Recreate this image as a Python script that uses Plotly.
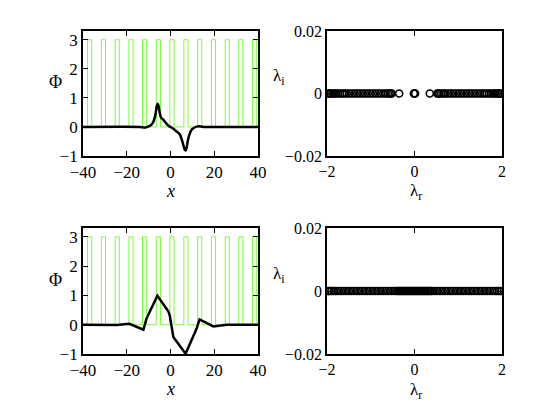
import plotly.graph_objects as go

# ---------------- data ----------------
# optical lattice (square wave): bar start / end positions, height
bar_start = [-37.9, -31.6, -25.3, -19.0, -12.8, -6.5, -0.3, 6.1, 12.4, 18.7, 25.0, 31.2, 37.5]
bar_end = [-36.0, -29.7, -23.4, -17.1, -10.9, -4.6, 1.6, 8.0, 14.3, 20.6, 26.9, 33.1, 39.4]
bar_height = 3.0

# top soliton profile
x_top = [-40, -14, -12, -11, -10, -9, -8, -7, -6.5, -6.2, -5.9, -5.5, -5.0, -4.5, -4.0, -3.3, -2.5, -1.5,
         -0.5, 0.5, 1.5, 2.5, 3.5, 4.3, 5.0, 5.5, 6.0, 6.5, 6.9, 7.3, 8.0, 9.0, 10.0, 11.0, 12.0, 13.0, 15.0, 40]
y_top = [0, 0, -0.02, -0.01, 0.02, 0.06, 0.15, 0.38, 0.6, 0.74, 0.80, 0.74, 0.52, 0.36, 0.29, 0.25, 0.17, 0.08,
         0.02, -0.02, -0.07, -0.14, -0.2, -0.26, -0.4, -0.52, -0.66, -0.78, -0.81, -0.74, -0.44, -0.19, -0.07, -0.02, 0.01, 0.02, 0, 0]

# bottom soliton profile
x_bot = [-40, -24.6, -18.8, -12.4, -11.0, -6.0, -1.0, -0.3, 1.3, 6.9, 11.9, 13.3, 19.6, 25.7, 40]
y_bot = [0, -0.01, 0.03, -0.17, 0.2, 0.99, 0.46, 0.3, -0.42, -0.99, -0.14, 0.18, -0.06, 0.0, 0]

# top eigenvalues (lambda_r, lambda_i)
lr_top = [-1.97, -1.95, -1.92, -1.88, -1.84, -1.80, -1.75, -1.70, -1.65, -1.60, -1.55, -1.49, -1.43,
          -1.37, -1.31, -1.25, -1.19, -1.13, -1.07, -1.01, -0.95, -0.89, -0.83, -0.77, -0.71, -0.66,
          -0.61, -0.57, -0.54, -0.52,
          -0.35, -0.015, 0.0, 0.015, 0.35,
          0.52, 0.54, 0.57, 0.61, 0.66, 0.71, 0.77, 0.83, 0.89, 0.95, 1.01, 1.07, 1.13, 1.19, 1.25,
          1.31, 1.37, 1.43, 1.49, 1.55, 1.60, 1.65, 1.70, 1.75, 1.80, 1.84, 1.88, 1.92, 1.95, 1.97]
li_top = [0.0] * len(lr_top)

# bottom eigenvalues
lr_bot = [-1.97, -1.94, -1.90, -1.85, -1.80, -1.74, -1.68, -1.62, -1.56, -1.50, -1.44, -1.38, -1.32,
          -1.26, -1.20, -1.14, -1.08, -1.02, -0.96, -0.90, -0.84, -0.78, -0.72, -0.66, -0.60, -0.54,
          -0.48, -0.42, -0.38, -0.35, -0.32, -0.29, -0.26, -0.23, -0.20, -0.17, -0.14, -0.11, -0.08,
          -0.05, -0.02, 0.01, 0.04, 0.07, 0.10, 0.13, 0.16, 0.19, 0.22, 0.25, 0.28, 0.31, 0.34, 0.37,
          0.40, 0.46, 0.52, 0.58, 0.64, 0.70, 0.76, 0.82, 0.88, 0.94, 1.00, 1.06, 1.12, 1.18, 1.24,
          1.30, 1.36, 1.42, 1.48, 1.54, 1.60, 1.66, 1.72, 1.78, 1.84, 1.89, 1.93, 1.97]
li_bot = [0.0] * len(lr_bot)

x_ticks_left = [-40, -20, 0, 20, 40]
y_ticks_left = [-1, 0, 1, 2, 3]
x_ticks_right = [-2, 0, 2]
y_ticks_right = [-0.02, 0, 0.02]
y_ticktext_right = ["\u22120.02", "0", "0.02"]

# ---------------- build lattice polyline ----------------
lat_x = [-40]
lat_y = [0]
for s, e in zip(bar_start, bar_end):
    lat_x += [s, s, e, e]
    lat_y += [0, bar_height, bar_height, 0]
lat_x.append(40)
lat_y.append(0)

# page body has an 8px margin: make the figure fit inside the window
OFF = 8
W, H = 554 - 2 * OFF, 416 - 2 * OFF
FONT = "Liberation Serif, Times New Roman, Times, serif"

fig = go.Figure()

GREEN = "#7CFC3C"
# top-left
fig.add_trace(go.Scatter(x=lat_x, y=lat_y, mode="lines", line=dict(color=GREEN, width=1),
                         xaxis="x", yaxis="y", showlegend=False))
fig.add_trace(go.Scatter(x=x_top, y=y_top, mode="lines", line=dict(color="black", width=2.5, shape="spline", smoothing=0.6),
                         xaxis="x", yaxis="y", showlegend=False))
# bottom-left
fig.add_trace(go.Scatter(x=lat_x, y=lat_y, mode="lines", line=dict(color=GREEN, width=1),
                         xaxis="x3", yaxis="y3", showlegend=False))
fig.add_trace(go.Scatter(x=x_bot, y=y_bot, mode="lines", line=dict(color="black", width=2.5),
                         xaxis="x3", yaxis="y3", showlegend=False))
# right scatters
mk = dict(symbol="circle-open", size=7, color="black", line=dict(width=1.6, color="black"))
fig.add_trace(go.Scatter(x=lr_top, y=li_top, mode="markers", marker=mk,
                         xaxis="x2", yaxis="y2", showlegend=False))
fig.add_trace(go.Scatter(x=lr_bot, y=li_bot, mode="markers", marker=mk,
                         xaxis="x4", yaxis="y4", showlegend=False))


def px_x(a, b):
    return [(a - OFF) / W, (b - OFF) / W]


def px_y(top, bot):
    return [(H - (bot - OFF)) / H, (H - (top - OFF)) / H]


axis_common = dict(showline=True, linecolor="black", linewidth=1.8, mirror="ticks",
                   ticks="inside", ticklen=5, tickwidth=1, tickcolor="black",
                   showgrid=False, zeroline=False, automargin=False)

left_font = dict(family=FONT, size=17, color="black")
right_font = dict(family=FONT, size=16, color="black")

fig.update_layout(
    width=W, height=H,
    margin=dict(l=0, r=0, t=0, b=0, autoexpand=False),
    paper_bgcolor="white", plot_bgcolor="white",
    font=dict(family=FONT, color="black"),
    xaxis=dict(domain=px_x(83, 258), range=[-40, 40], tickvals=x_ticks_left, anchor="y",
               tickfont=left_font, **axis_common),
    yaxis=dict(domain=px_y(31, 156), range=[-1, 3.3], tickvals=y_ticks_left, anchor="x",
               tickfont=left_font, **axis_common),
    xaxis2=dict(domain=px_x(327, 502), range=[-2, 2], tickvals=x_ticks_right, anchor="y2",
                tickfont=right_font, **axis_common),
    yaxis2=dict(domain=px_y(31, 156), range=[-0.02, 0.02], tickvals=y_ticks_right,
                ticktext=y_ticktext_right, anchor="x2", tickfont=right_font, **axis_common),
    xaxis3=dict(domain=px_x(83, 258), range=[-40, 40], tickvals=x_ticks_left, anchor="y3",
                tickfont=left_font, **axis_common),
    yaxis3=dict(domain=px_y(228, 354), range=[-1, 3.3], tickvals=y_ticks_left, anchor="x3",
                tickfont=left_font, **axis_common),
    xaxis4=dict(domain=px_x(327, 502), range=[-2, 2], tickvals=x_ticks_right, anchor="y4",
                tickfont=right_font, **axis_common),
    yaxis4=dict(domain=px_y(228, 354), range=[-0.02, 0.02], tickvals=y_ticks_right,
                ticktext=y_ticktext_right, anchor="x4", tickfont=right_font, **axis_common),
)


def label(text, x, y, size=18):
    fig.add_annotation(text=text, x=(x - OFF) / W, y=(H - (y - OFF)) / H, xref="paper", yref="paper",
                       showarrow=False, xanchor="center", yanchor="middle",
                       font=dict(family=FONT, size=size, color="black"))


label("\u03a6", 55, 82)
label("<i>x</i>", 170, 191)
label("\u03bb<sub>i</sub>", 279, 77, 17)
label("\u03bb<sub>r</sub>", 416, 192, 17)
label("\u03a6", 55, 280)
label("<i>x</i>", 170, 389)
label("\u03bb<sub>i</sub>", 279, 275, 17)
label("\u03bb<sub>r</sub>", 416, 391, 17)

fig.write_html("out.html")
